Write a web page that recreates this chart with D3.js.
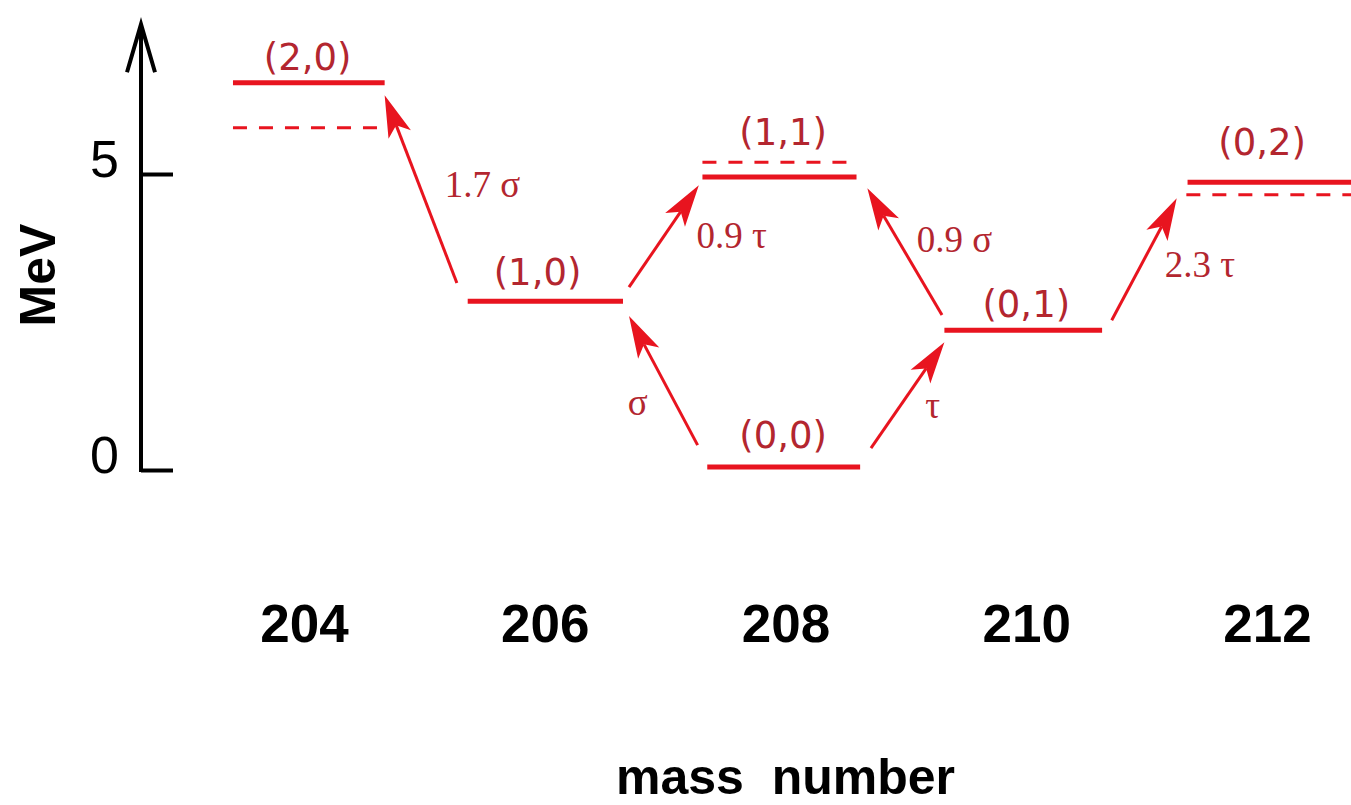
<!DOCTYPE html>
<meta charset="utf-8">
<head>
  <title>Level scheme</title>
</head>
<style>
  body {
    margin: 0;
    background: #fff;
  }
  .axis path, .axis line {
    stroke: #000;
    stroke-width: 4px;
  }
  .level {
    stroke: #e8141f;
    stroke-width: 5px;
  }
  .level.dashed {
    stroke-width: 3px;
    stroke-dasharray: 14 12;
  }
  .arrow {
    stroke: #e8141f;
    stroke-width: 3px;
    fill: none;
  }
  .head {
    fill: #e8141f;
  }
  .lab {
    font-family: "DejaVu Sans", sans-serif;
    font-size: 37px;
    fill: #b3262f;
    text-anchor: middle;
  }
  .alab {
    font-family: "Liberation Serif", "Times New Roman", serif;
    font-size: 37px;
    fill: #b3262f;
  }
  .title {
    font-family: "Liberation Sans", Arial, sans-serif;
    font-weight: bold;
    font-size: 50px;
    white-space: pre;
  }
</style>
<body>
<svg width="1351" height="805"></svg>
<script src="https://cdn.jsdelivr.net/npm/d3@7"></script>
<script>
// x axis: mass number
var masses = [204, 206, 208, 210, 212];
// y axis ticks (MeV)
var yTicks = [0, 5];

// solid levels
var levelNames  = ["(2,0)", "(1,0)", "(1,1)", "(0,0)", "(0,1)", "(0,2)"];
var levelEnergy = [6.54, 2.85, 4.95, 0.05, 2.36, 4.86];
var levelFrom   = [203.41, 205.36, 207.31, 207.35, 209.32, 211.34];
var levelTo     = [204.67, 206.65, 208.59, 208.62, 210.63, 212.70];
// where the level names sit (mass, MeV)
var labelMass   = [204.03, 205.94, 207.98, 207.98, 210.0, 211.96];
var labelEnergy = [6.76, 3.13, 5.49, 0.37, 2.58, 5.32];

// dashed levels
var dashEnergy = [5.78, 5.20, 4.65];
var dashFrom   = [203.41, 207.31, 211.33];
var dashTo     = [204.65, 208.53, 212.70];

// transitions: [mass, MeV]
var arrowText  = ["1.7 σ", "0.9 τ", "σ", "τ", "0.9 σ", "2.3 τ"];
var arrowFrom  = [[205.27, 3.16], [206.70, 3.09], [207.27, 0.42], [208.71, 0.37], [209.30, 2.62], [210.71, 2.53]];
var arrowTo    = [[204.67, 6.33], [207.28, 4.81], [206.70, 2.60], [209.32, 2.16], [208.68, 4.76], [211.25, 4.59]];
var arrowLabel = [[205.17, 4.61], [207.26, 3.75], [206.69, 0.93], [209.16, 0.88], [209.09, 3.68], [211.15, 3.26]];

var svg = d3.select("svg");

var x = d3.scaleLinear().domain([204, 212]).range([304, 1267]);
var y = d3.scaleLinear().domain([0, 5]).range([470, 174]);
var yTop = 7.53;

// y axis
var yAxis = svg.append("g")
    .attr("class", "axis")
    .attr("transform", "translate(141,0)")
    .call(d3.axisLeft(y).tickValues(yTicks).tickFormat(d3.format("d"))
      .tickSizeInner(-32).tickSizeOuter(0).tickPadding(22));
yAxis.select(".domain").remove();
yAxis.selectAll("text")
    .attr("dy", "0.05em")
    .style("font-family", "'Liberation Sans', Arial, sans-serif")
    .style("font-size", "52px")
    .attr("fill", "#000");
yAxis.append("line")
    .attr("x1", 0).attr("x2", 0)
    .attr("y1", y(0) + 2).attr("y2", y(yTop) + 4);
yAxis.append("path")
    .attr("fill", "none")
    .attr("d", "M-14," + (y(yTop) + 48) + "L0," + y(yTop) + "L14," + (y(yTop) + 48));

svg.append("text")
    .attr("class", "title")
    .attr("transform", "translate(55,275) rotate(-90)")
    .attr("text-anchor", "middle")
    .text("MeV");

// x axis (labels only)
var xAxis = svg.append("g")
    .attr("transform", "translate(0,642)")
    .call(d3.axisBottom(x).tickValues(masses).tickSize(0).tickFormat(d3.format("d")));
xAxis.select(".domain").remove();
xAxis.selectAll("text")
    .attr("y", 0).attr("dy", 0)
    .style("font-family", "'Liberation Sans', Arial, sans-serif")
    .style("font-weight", "bold")
    .style("font-size", "53px")
    .attr("fill", "#000");

svg.append("text")
    .attr("class", "title")
    .attr("x", x(208))
    .attr("y", 794)
    .attr("text-anchor", "middle")
    .text("mass  number");

// levels
svg.selectAll(".level.solid")
    .data(levelNames)
  .enter().append("line")
    .attr("class", "level solid")
    .attr("x1", function(d, i) { return x(levelFrom[i]); })
    .attr("x2", function(d, i) { return x(levelTo[i]); })
    .attr("y1", function(d, i) { return y(levelEnergy[i]); })
    .attr("y2", function(d, i) { return y(levelEnergy[i]); });

svg.selectAll(".level.dashed")
    .data(dashEnergy)
  .enter().append("line")
    .attr("class", "level dashed")
    .attr("x1", function(d, i) { return x(dashFrom[i]); })
    .attr("x2", function(d, i) { return x(dashTo[i]); })
    .attr("y1", function(d) { return y(d); })
    .attr("y2", function(d) { return y(d); });

svg.selectAll(".lab")
    .data(levelNames)
  .enter().append("text")
    .attr("class", "lab")
    .attr("x", function(d, i) { return x(labelMass[i]); })
    .attr("y", function(d, i) { return y(labelEnergy[i]); })
    .text(function(d) { return d; });

// transitions
var L = 42, W = 12, N = 10;
arrowText.forEach(function(t, i) {
  var x0 = x(arrowFrom[i][0]), y0 = y(arrowFrom[i][1]);
  var x1 = x(arrowTo[i][0]), y1 = y(arrowTo[i][1]);
  var a = Math.atan2(y1 - y0, x1 - x0);
  var ux = Math.cos(a), uy = Math.sin(a);
  var bx = x1 - (L - N) * ux, by = y1 - (L - N) * uy;

  svg.append("line")
      .attr("class", "arrow")
      .attr("x1", x0).attr("y1", y0)
      .attr("x2", bx).attr("y2", by);

  var p = [
    [x1, y1],
    [x1 - L * ux - W * uy, y1 - L * uy + W * ux],
    [bx, by],
    [x1 - L * ux + W * uy, y1 - L * uy - W * ux]
  ];
  svg.append("path")
      .attr("class", "head")
      .attr("d", "M" + p.join("L") + "Z");

  svg.append("text")
      .attr("class", "alab")
      .attr("x", x(arrowLabel[i][0]))
      .attr("y", y(arrowLabel[i][1]))
      .text(t);
});
</script>
</body>
</html>
